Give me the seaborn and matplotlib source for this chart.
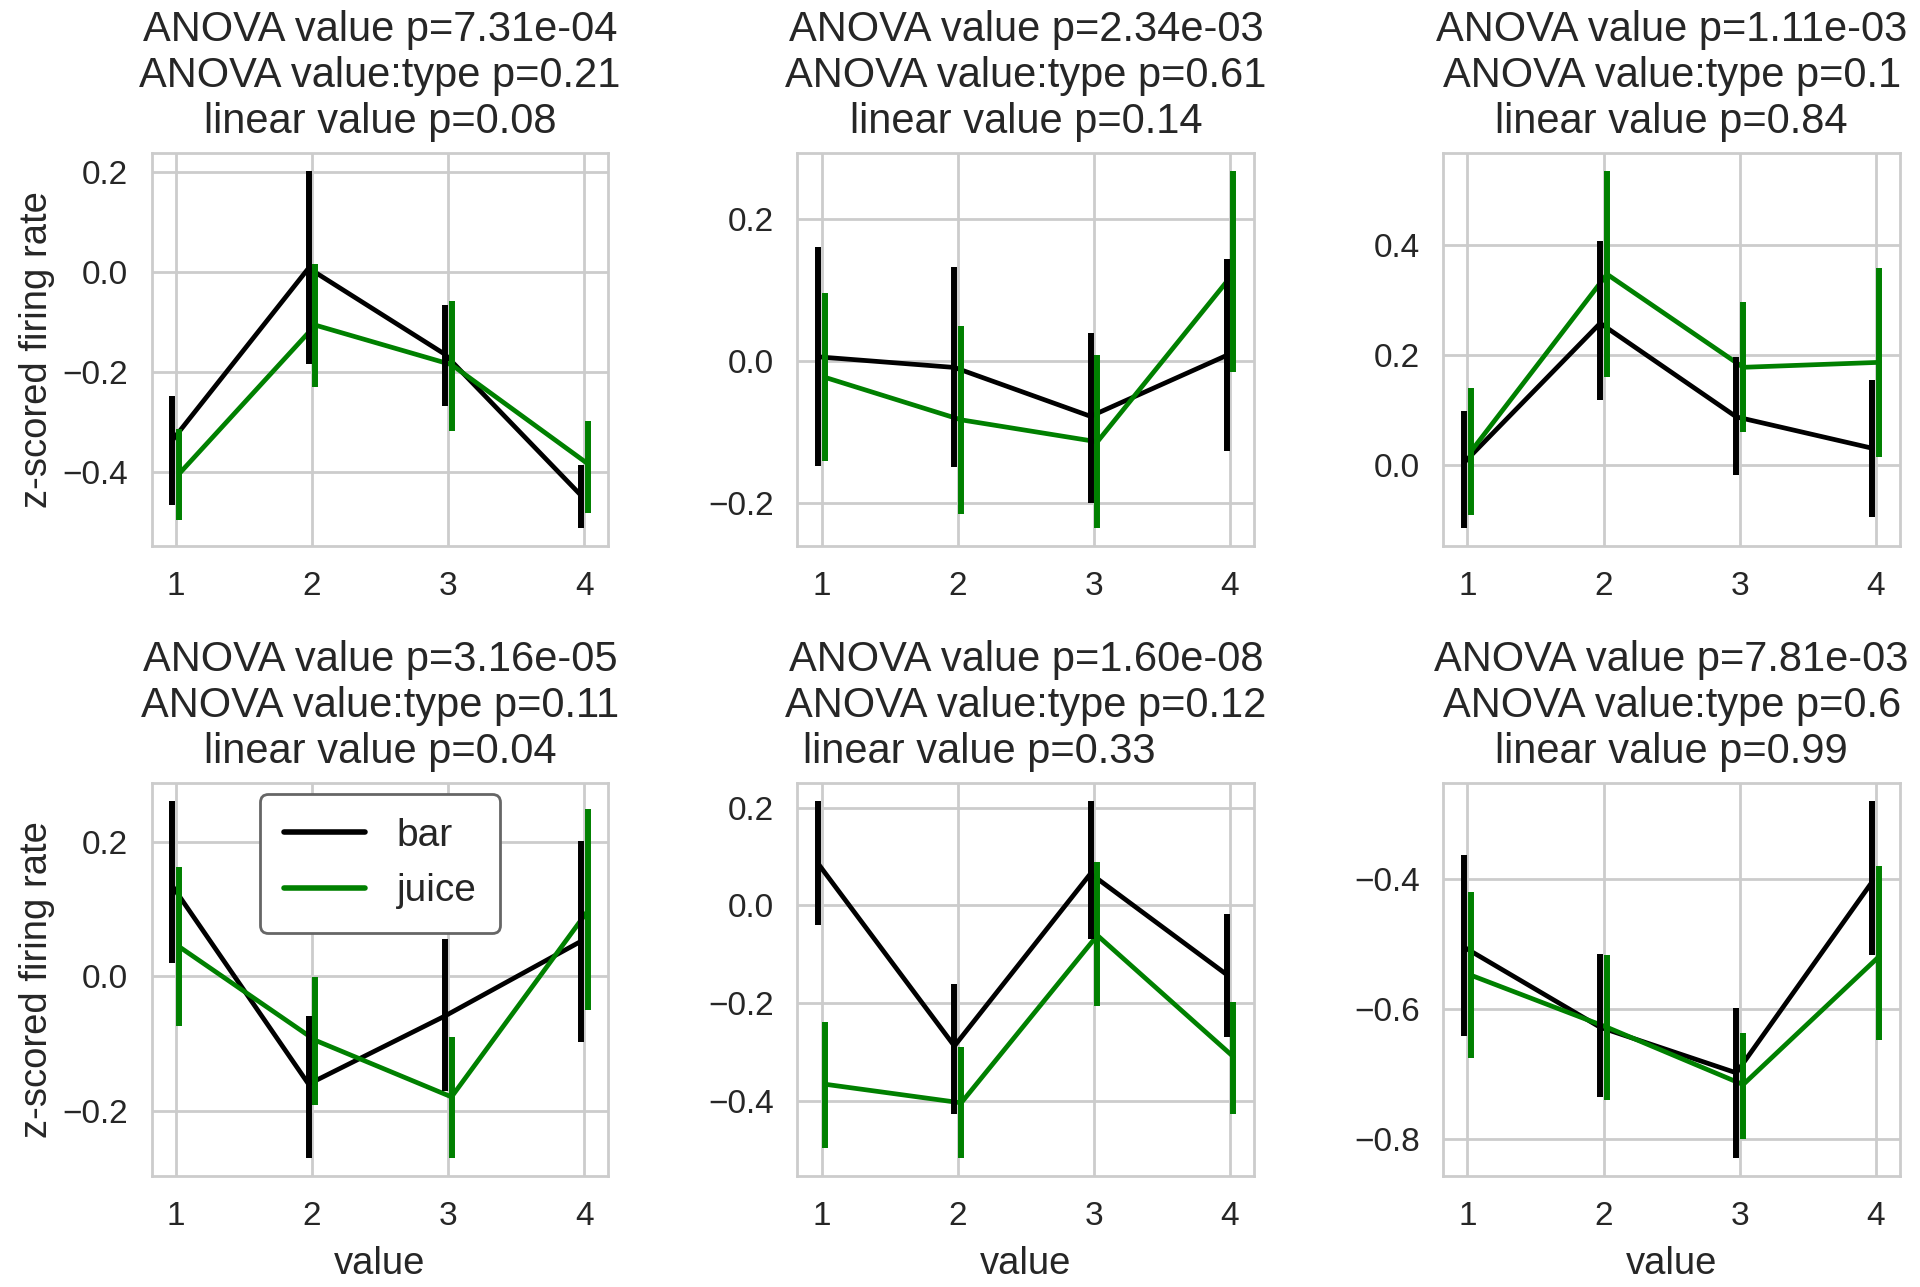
import numpy as np
import pandas as pd
import matplotlib
matplotlib.use("Agg")
import matplotlib.pyplot as plt
import seaborn as sns

sns.set_theme(style="whitegrid", context="poster")
plt.rcParams['font.family'] = ['Liberation Sans', 'DejaVu Sans']

# valores de la variable "value"
values = [1, 2, 3, 4]
types = ['bar', 'juice']

# medias y extremos del intervalo, un panel por fila
bar_mean = [
    [-0.336, 0.008, -0.164, -0.446],
    [0.006, -0.009, -0.078, 0.008],
    [0.005, 0.258, 0.088, 0.031],
    [0.134, -0.160, -0.059, 0.052],
    [0.085, -0.287, 0.065, -0.141],
    [-0.505, -0.628, -0.698, -0.404],
]
bar_lo = [
    [-0.466, -0.184, -0.267, -0.512],
    [-0.148, -0.149, -0.200, -0.127],
    [-0.114, 0.118, -0.017, -0.094],
    [0.020, -0.270, -0.170, -0.097],
    [-0.040, -0.425, -0.069, -0.269],
    [-0.642, -0.735, -0.829, -0.517],
]
bar_hi = [
    [-0.247, 0.203, -0.065, -0.386],
    [0.161, 0.133, 0.039, 0.144],
    [0.099, 0.407, 0.196, 0.155],
    [0.261, -0.059, 0.056, 0.201],
    [0.214, -0.160, 0.213, -0.017],
    [-0.364, -0.515, -0.599, -0.280],
]
juice_mean = [
    [-0.403, -0.106, -0.185, -0.383],
    [-0.023, -0.083, -0.114, 0.124],
    [0.025, 0.347, 0.178, 0.187],
    [0.044, -0.095, -0.179, 0.097],
    [-0.365, -0.403, -0.061, -0.309],
    [-0.548, -0.628, -0.716, -0.519],
]
juice_lo = [
    [-0.495, -0.230, -0.317, -0.482],
    [-0.141, -0.216, -0.236, -0.016],
    [-0.090, 0.161, 0.061, 0.016],
    [-0.074, -0.191, -0.269, -0.050],
    [-0.496, -0.516, -0.205, -0.425],
    [-0.675, -0.740, -0.800, -0.648],
]
juice_hi = [
    [-0.313, 0.016, -0.057, -0.297],
    [0.096, 0.050, 0.009, 0.269],
    [0.141, 0.535, 0.296, 0.358],
    [0.163, -0.001, -0.090, 0.249],
    [-0.237, -0.289, 0.089, -0.197],
    [-0.420, -0.517, -0.637, -0.380],
]

anova_p = ['7.31e-04', '2.34e-03', '1.11e-03', '3.16e-05', '1.60e-08', '7.81e-03']
inter_p = ['0.21', '0.61', '0.1', '0.11', '0.12', '0.6']
linear_p = ['0.08', '0.14', '0.84', '0.04', '0.33        ', '0.99']

yticks = [
    [-0.4, -0.2, 0.0, 0.2],
    [-0.2, 0.0, 0.2],
    [0.0, 0.2, 0.4],
    [-0.2, 0.0, 0.2],
    [-0.4, -0.2, 0.0, 0.2],
    [-0.8, -0.6, -0.4],
]

colors = {'bar': 'black', 'juice': 'green'}
offsets = {'bar': -0.025, 'juice': 0.025}

fig, axes = plt.subplots(2, 3, figsize=(19.2, 12.87), dpi=100)
fig.subplots_adjust(left=0.079, right=0.9896, top=0.8813, bottom=0.0862,
                    wspace=0.414, hspace=0.602)

for i, ax in enumerate(axes.flat):
    stats = {
        'bar': (bar_mean[i], bar_lo[i], bar_hi[i]),
        'juice': (juice_mean[i], juice_lo[i], juice_hi[i]),
    }
    rows = []
    for t in types:
        m, lo, hi = stats[t]
        for v, mm, l, h in zip(values, m, lo, hi):
            rows.append({'value': v, 'x': v + offsets[t], 'type': t,
                         'mean': mm, 'lo': l, 'hi': h})
    df = pd.DataFrame(rows)

    sns.lineplot(data=df, x='x', y='mean', hue='type', palette=colors,
                 linewidth=3.4, ax=ax, legend=(i == 3))
    for t in types:
        d = df[df['type'] == t]
        ax.vlines(d['x'], d['lo'], d['hi'], color=colors[t], linewidth=4.3)

    ax.set_xticks(values)
    ax.set_xticklabels([str(v) for v in values])
    ax.set_yticks(yticks[i])
    ax.tick_params(axis='both', labelsize=24, length=0)
    ax.tick_params(axis='x', pad=18)
    ax.tick_params(axis='y', pad=17)
    for s in ax.spines.values():
        s.set_color('#cccccc')
        s.set_linewidth(2)
    ax.grid(color='#cccccc', linewidth=2)

    ax.set_title(f'ANOVA value p={anova_p[i]}\nANOVA value:type p={inter_p[i]}\n'
                 f'linear value p={linear_p[i]}', fontsize=30, linespacing=1.2, pad=14)
    ax.set_xlabel('value' if i >= 3 else '', fontsize=27.5, labelpad=10)
    ax.set_ylabel('z-scored firing rate' if i % 3 == 0 else '', fontsize=27.5, labelpad=5)

    if i == 3:
        handles, labels = ax.get_legend_handles_labels()
        leg = ax.legend(handles, labels, loc='upper center', fontsize=28,
                        frameon=True, fancybox=True, framealpha=1,
                        handlelength=2.1, borderpad=0.6, borderaxespad=0.3)
        leg.get_frame().set_edgecolor('#666666')
        leg.get_frame().set_linewidth(2)
        for h in leg.get_lines():
            h.set_linewidth(4)

fig.savefig('out.png', dpi=100)
